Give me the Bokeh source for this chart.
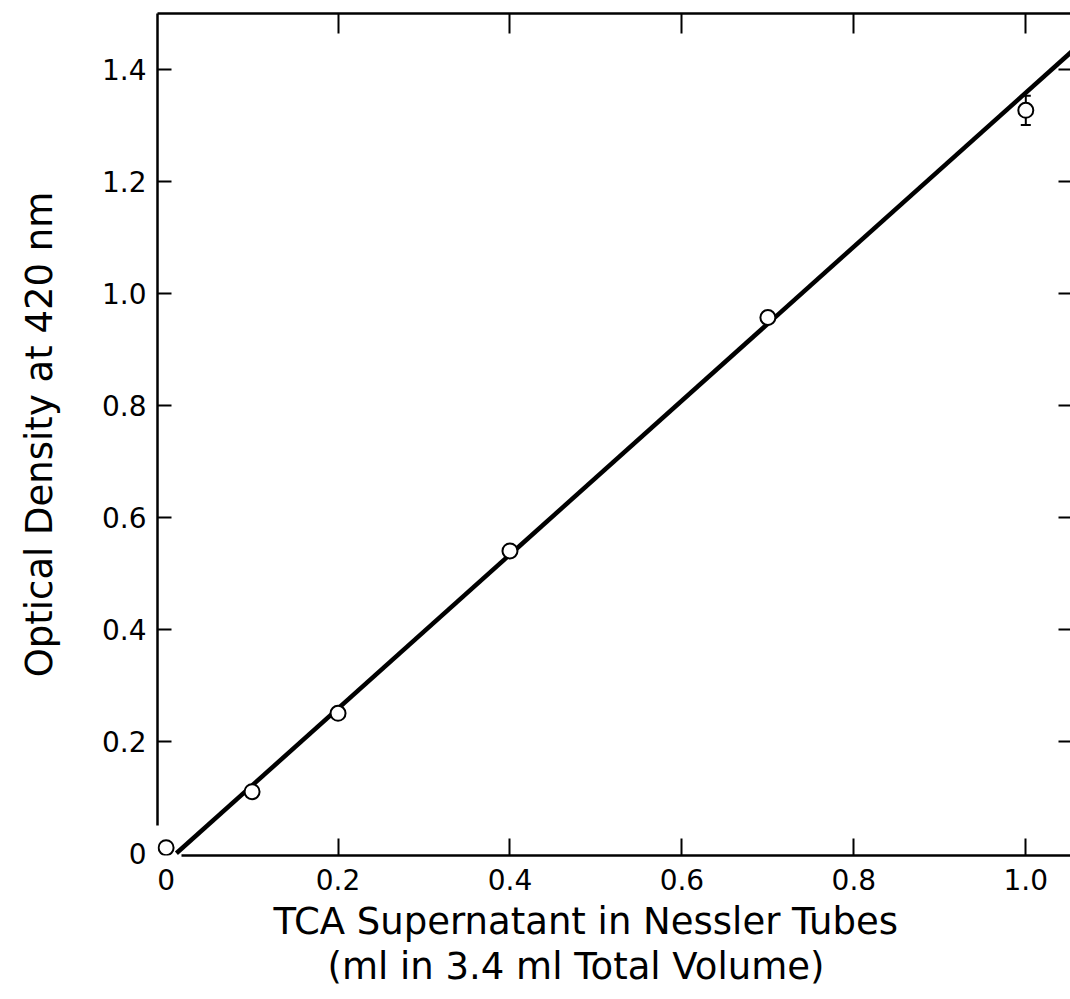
from bokeh.plotting import figure
from bokeh.models import (LinearAxis, FixedTicker, Whisker, ColumnDataSource, Title,
                          Range1d, TeeHead, PrintfTickFormatter, CustomJSTickFormatter)
from bokeh.embed import file_html
from bokeh.resources import INLINE

# ---- data ----
vol_ml = [0.0, 0.1, 0.2, 0.4, 0.7, 1.0]
od_420 = [0.01, 0.11, 0.25, 0.54, 0.957, 1.327]
err_x = [1.0]
err_lower = [1.301]
err_upper = [1.353]
fit_x = [0.012, 1.06]
fit_y = [0.0, 1.441]
x_ticks = [0.2, 0.4, 0.6, 0.8, 1.0]
y_ticks = [0.2, 0.4, 0.6, 0.8, 1.0, 1.2, 1.4]
x_label_ticks = [0.0, 0.2, 0.4, 0.6, 0.8, 1.0]
y_label_ticks = [0.0, 0.2, 0.4, 0.6, 0.8, 1.0, 1.2, 1.4]
x_title = ["TCA Supernatant in Nessler Tubes", "(ml in 3.4 ml Total Volume)"]
y_title = "Optical Density at 420 nm"

FONT = "DejaVu Sans"

p = figure(width=1070, height=999, output_backend="svg", toolbar_location=None,
           x_range=Range1d(-0.01, 1.052), y_range=Range1d(-0.004, 1.5),
           min_border_left=157, min_border_top=13, min_border_bottom=144,
           min_border_right=0)
p.outline_line_color = None
p.xgrid.visible = False
p.ygrid.visible = False
p.background_fill_color = "white"
p.border_fill_color = "white"

blank = CustomJSTickFormatter(code="return ''")

def line_axis(ax, ticks, tick_len):
    ax.ticker = FixedTicker(ticks=ticks)
    ax.major_tick_in = tick_len
    ax.major_tick_out = 0
    ax.minor_tick_line_color = None
    ax.axis_line_width = 2.5
    ax.axis_line_color = "black"
    ax.major_tick_line_width = 2
    ax.major_tick_line_color = "black"
    ax.formatter = blank
    ax.major_label_text_font_size = "1px"
    ax.major_label_standoff = 0

def label_axis(ax, ticks, standoff):
    ax.ticker = FixedTicker(ticks=ticks)
    ax.axis_line_color = None
    ax.major_tick_line_color = None
    ax.minor_tick_line_color = None
    ax.major_tick_in = 0
    ax.major_tick_out = 0
    ax.formatter = PrintfTickFormatter(format="%.1f")
    ax.major_label_overrides = {0: "0"}
    ax.major_label_text_font = FONT
    ax.major_label_text_font_size = "28px"
    ax.major_label_text_color = "black"
    ax.major_label_standoff = standoff

# bottom: line + ticks (gap at origin), then labels
xa = p.xaxis[0]
line_axis(xa, x_ticks, 17)
xa.bounds = (0.0175, 1.2)
xb = LinearAxis()
label_axis(xb, x_label_ticks, 13)
p.add_layout(xb, "below")

# left: line + ticks (gap at origin), then labels + title
ya = p.yaxis[0]
line_axis(ya, y_ticks, 14)
ya.bounds = (0.05, 1.7)
yb = LinearAxis()
label_axis(yb, y_label_ticks, 11)
yb.axis_label = y_title
yb.axis_label_text_font = FONT
yb.axis_label_text_font_size = "37px"
yb.axis_label_text_font_style = "normal"
yb.axis_label_text_color = "black"
yb.axis_label_standoff = 38
p.add_layout(yb, "left")

top = LinearAxis()
line_axis(top, x_ticks, 20)
p.add_layout(top, "above")

right = LinearAxis()
line_axis(right, y_ticks, 12)
right.axis_line_color = None
p.add_layout(right, "right")

# x axis title, two lines
p.add_layout(Title(text=x_title[0], align="left", offset=116, text_font=FONT,
                   text_font_size="37px", text_font_style="normal",
                   text_color="black", standoff=10), "below")
p.add_layout(Title(text=x_title[1], align="left", offset=170, text_font=FONT,
                   text_font_size="37px", text_font_style="normal",
                   text_color="black", standoff=-10), "below")

# fitted line
p.line(fit_x, fit_y, line_width=4.5, line_color="black")

# error bar
esrc = ColumnDataSource(dict(x=err_x, lower=err_lower, upper=err_upper))
wh = Whisker(source=esrc, base="x", lower="lower", upper="upper", dimension="height",
             line_width=2, line_color="black",
             upper_head=TeeHead(size=10, line_width=2, line_color="black"),
             lower_head=TeeHead(size=10, line_width=2, line_color="black"))
wh.level = "underlay"
p.add_layout(wh)

# data points
p.scatter(vol_ml, od_420, size=15, marker="circle", fill_color="white",
          line_color="black", line_width=2)

open("out.html", "w").write(file_html(p, INLINE))
